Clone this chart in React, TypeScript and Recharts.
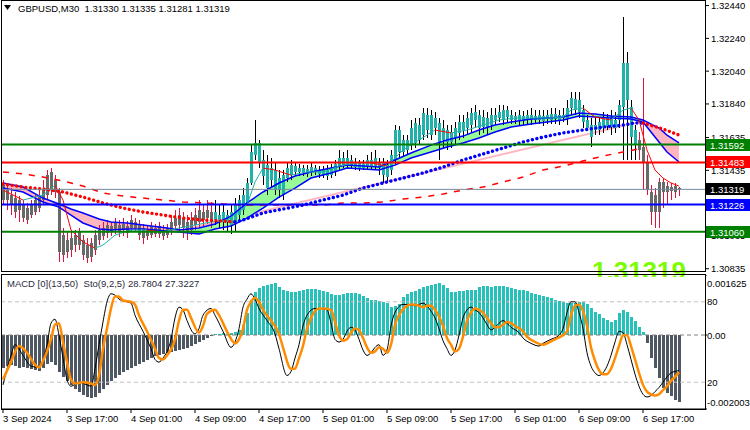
import { Area, Bar, ComposedChart, Line, ReferenceLine, XAxis, YAxis } from 'recharts'

const FONT = '"Liberation Sans", Arial, sans-serif'
const TEAL = '#20b2aa'
const BEAR = '#696969'
const WICK_UP = '#000000'
const WICK_DOWN = '#dc143c'
const HIST_UP = '#26c1b8'
const HIST_DOWN = '#4f5862'

// 170 M30 bars + empty chart shift on the right
const SLOTS = 176

const timeLabels = [
  '3 Sep 2024', '3 Sep 17:00', '4 Sep 01:00', '4 Sep 09:00', '4 Sep 17:00', '5 Sep 01:00',
  '5 Sep 09:00', '5 Sep 17:00', '6 Sep 01:00', '6 Sep 09:00', '6 Sep 17:00',
]

const priceTicks = [1.3244, 1.3224, 1.3204, 1.3184, 1.31635, 1.31435, 1.31035, 1.30835]
const lastPrice = 1.31319

const opens = [
  1.31345, 1.31315, 1.31284, 1.31266, 1.31254, 1.31223, 1.31205, 1.31223, 1.31254, 1.31284,
  1.31315, 1.31406, 1.31425, 1.31376, 1.31303, 1.3104, 1.3101, 1.31022, 1.3104, 1.31059,
  1.3101, 1.30979, 1.30992, 1.3104, 1.31071, 1.31083, 1.31101, 1.31095, 1.3112, 1.31101,
  1.31108, 1.31095, 1.31132, 1.3112, 1.31101, 1.31083, 1.31071, 1.31089, 1.31083, 1.31095,
  1.31071, 1.31083, 1.3112, 1.31144, 1.31162, 1.31144, 1.3112, 1.31132, 1.31162, 1.31193,
  1.31181, 1.31193, 1.31181, 1.31132, 1.3112, 1.3112, 1.3112, 1.31101, 1.3112, 1.31162,
  1.31193, 1.31236, 1.31358, 1.31528, 1.31486, 1.314, 1.31327, 1.31376, 1.31315, 1.31315,
  1.31284, 1.31388, 1.31406, 1.31425, 1.31425, 1.31419, 1.31413, 1.31425, 1.31425, 1.31413,
  1.31406, 1.314, 1.31406, 1.31425, 1.31461, 1.31467, 1.31474, 1.31467, 1.31455, 1.31449,
  1.31449, 1.31455, 1.31461, 1.31461, 1.31449, 1.31406, 1.31394, 1.31437, 1.31498, 1.31547,
  1.31547, 1.31559, 1.31589, 1.31602, 1.3162, 1.3165, 1.31681, 1.3165, 1.31693, 1.31602,
  1.3162, 1.31608, 1.31608, 1.31632, 1.31663, 1.31681, 1.31693, 1.31711, 1.31742, 1.31693,
  1.31699, 1.31699, 1.31711, 1.31742, 1.31754, 1.31742, 1.3176, 1.31742, 1.31742, 1.31742,
  1.31736, 1.31742, 1.31742, 1.31742, 1.31742, 1.31736, 1.31748, 1.31742, 1.31748, 1.31742,
  1.31754, 1.31754, 1.31815, 1.31803, 1.31791, 1.3173, 1.31693, 1.31638, 1.31681, 1.31681,
  1.31693, 1.31705, 1.31699, 1.31693, 1.31742, 1.31821, 1.31864, 1.31638, 1.31589, 1.3162,
  1.31577, 1.31486, 1.31303, 1.31284, 1.31364, 1.31364, 1.31339, 1.31333, 1.31339, 1.3133,
]
const highs = [
  1.31376, 1.31345, 1.31327, 1.31303, 1.31278, 1.31254, 1.31236, 1.31254, 1.31284, 1.31327,
  1.31376, 1.31437, 1.31449, 1.31406, 1.31327, 1.31083, 1.31059, 1.31059, 1.31071, 1.31083,
  1.3104, 1.31022, 1.31022, 1.31071, 1.31101, 1.3112, 1.31132, 1.3112, 1.31144, 1.31132,
  1.31144, 1.31126, 1.31162, 1.31144, 1.31132, 1.31108, 1.31095, 1.3112, 1.31108, 1.3112,
  1.31101, 1.31108, 1.31162, 1.31193, 1.31205, 1.31181, 1.31162, 1.31181, 1.31205, 1.31254,
  1.31223, 1.31254, 1.31242, 1.31254, 1.31223, 1.31223, 1.31193, 1.31223, 1.31266, 1.31284,
  1.31327, 1.31388, 1.31589, 1.31742, 1.3162, 1.31559, 1.31528, 1.3151, 1.31486, 1.31437,
  1.31437, 1.31486, 1.31498, 1.31486, 1.31474, 1.31467, 1.31467, 1.3148, 1.31467, 1.31461,
  1.31461, 1.31467, 1.31474, 1.31498, 1.31559, 1.31547, 1.31559, 1.31528, 1.3151, 1.31498,
  1.31498, 1.31528, 1.31547, 1.31559, 1.3151, 1.3151, 1.31498, 1.31559, 1.31711, 1.31705,
  1.3165, 1.3165, 1.31742, 1.31754, 1.31754, 1.31815, 1.31815, 1.31803, 1.31791, 1.31754,
  1.31742, 1.31711, 1.31711, 1.3173, 1.31772, 1.31772, 1.31791, 1.31815, 1.31833, 1.31803,
  1.31803, 1.31791, 1.31815, 1.31815, 1.31833, 1.31833, 1.31827, 1.31803, 1.31791, 1.31803,
  1.31797, 1.31803, 1.31815, 1.31803, 1.31803, 1.31803, 1.31803, 1.31815, 1.31815, 1.31803,
  1.31815, 1.31864, 1.31913, 1.31913, 1.31913, 1.31833, 1.31772, 1.31754, 1.31754, 1.31754,
  1.31791, 1.31779, 1.31803, 1.31791, 1.31864, 1.3237, 1.32157, 1.31864, 1.31711, 1.31669,
  1.31998, 1.31528, 1.31345, 1.31327, 1.31388, 1.31388, 1.31364, 1.31358, 1.31358, 1.31335,
]
const lows = [
  1.31223, 1.31193, 1.31162, 1.31144, 1.3112, 1.3112, 1.31108, 1.31144, 1.31162, 1.31181,
  1.31223, 1.31254, 1.31284, 1.31266, 1.30876, 1.30876, 1.309, 1.30906, 1.30937, 1.30949,
  1.30888, 1.3087, 1.30876, 1.30918, 1.30979, 1.3101, 1.31022, 1.31034, 1.31047, 1.31028,
  1.31034, 1.31022, 1.31059, 1.31059, 1.3101, 1.30986, 1.3101, 1.31022, 1.31028, 1.31022,
  1.3101, 1.31022, 1.3104, 1.31071, 1.31059, 1.31022, 1.3101, 1.3104, 1.31071, 1.31083,
  1.31095, 1.31108, 1.31083, 1.31101, 1.31083, 1.31071, 1.31059, 1.31047, 1.31059, 1.3112,
  1.31162, 1.31217, 1.31345, 1.31498, 1.31449, 1.31345, 1.31284, 1.31327, 1.31284, 1.31266,
  1.31254, 1.31364, 1.31376, 1.314, 1.314, 1.314, 1.31394, 1.314, 1.31406, 1.31388,
  1.31388, 1.31376, 1.31388, 1.314, 1.31437, 1.31449, 1.31449, 1.31449, 1.31437, 1.31431,
  1.31437, 1.31437, 1.31437, 1.31437, 1.31406, 1.31358, 1.31364, 1.31406, 1.31467, 1.3151,
  1.31522, 1.31528, 1.31559, 1.31571, 1.31589, 1.3162, 1.31632, 1.3162, 1.3165, 1.31498,
  1.31571, 1.31559, 1.31571, 1.31589, 1.3162, 1.31632, 1.3165, 1.31669, 1.31693, 1.3165,
  1.31663, 1.3165, 1.31681, 1.31711, 1.3173, 1.31711, 1.3173, 1.31718, 1.31718, 1.31711,
  1.31711, 1.31718, 1.31711, 1.31718, 1.31718, 1.31705, 1.31718, 1.31718, 1.31718, 1.31711,
  1.3173, 1.31711, 1.31772, 1.31772, 1.31754, 1.31693, 1.31681, 1.31577, 1.3165, 1.3165,
  1.31663, 1.31681, 1.3165, 1.31663, 1.31693, 1.31498, 1.31498, 1.31498, 1.31498, 1.31498,
  1.31315, 1.31284, 1.31101, 1.31083, 1.31083, 1.31205, 1.31223, 1.31254, 1.31266, 1.31281,
]
const closes = [
  1.31254, 1.31254, 1.31223, 1.31181, 1.31193, 1.31144, 1.31132, 1.31162, 1.31181, 1.31205,
  1.31254, 1.31284, 1.31315, 1.31303, 1.30937, 1.30918, 1.30937, 1.30949, 1.30979, 1.30979,
  1.30918, 1.309, 1.30906, 1.30949, 1.3101, 1.31034, 1.31053, 1.31059, 1.31071, 1.31059,
  1.31071, 1.31053, 1.31083, 1.31083, 1.3104, 1.31022, 1.31034, 1.3104, 1.31047, 1.31047,
  1.31034, 1.3104, 1.31071, 1.31095, 1.31101, 1.31083, 1.31059, 1.31071, 1.31101, 1.3112,
  1.31132, 1.31144, 1.3112, 1.31181, 1.31162, 1.31181, 1.31162, 1.31181, 1.31223, 1.31254,
  1.31284, 1.31358, 1.31547, 1.31602, 1.31602, 1.31498, 1.31467, 1.31449, 1.31437, 1.31388,
  1.31406, 1.31449, 1.31467, 1.31461, 1.31449, 1.31449, 1.31443, 1.31455, 1.31449, 1.31437,
  1.31437, 1.31437, 1.31449, 1.31474, 1.3151, 1.3151, 1.3151, 1.31498, 1.31486, 1.3148,
  1.31474, 1.31498, 1.31498, 1.3151, 1.31486, 1.3148, 1.31467, 1.31528, 1.31681, 1.31681,
  1.3162, 1.3162, 1.31693, 1.31724, 1.31711, 1.31785, 1.31772, 1.31772, 1.31754, 1.31724,
  1.31693, 1.31681, 1.31669, 1.31693, 1.3173, 1.3173, 1.31754, 1.31785, 1.31791, 1.31772,
  1.3176, 1.31754, 1.31772, 1.31772, 1.31791, 1.31803, 1.31803, 1.31772, 1.31766, 1.31772,
  1.31766, 1.31772, 1.31772, 1.31766, 1.31772, 1.31766, 1.31772, 1.31779, 1.31779, 1.31772,
  1.31772, 1.31815, 1.31876, 1.3187, 1.31864, 1.31803, 1.31742, 1.31711, 1.31711, 1.3173,
  1.31754, 1.31754, 1.3176, 1.31742, 1.31833, 1.3209, 1.3209, 1.31821, 1.31681, 1.31559,
  1.31486, 1.31315, 1.31181, 1.31181, 1.31181, 1.31303, 1.31303, 1.31309, 1.31303, 1.31319,
]

// [bar, value] samples
const fastMaPts: [number, number][] = [
  [0, 1.31315], [5, 1.31254], [10, 1.31284], [13, 1.31345], [15, 1.31254], [17, 1.31071], [20, 1.30998],
  [23, 1.30961], [25, 1.30979], [28, 1.3104], [32, 1.31071], [36, 1.31071], [40, 1.31059], [44, 1.31083],
  [48, 1.31101], [52, 1.3112], [56, 1.31132], [59, 1.31181], [61, 1.31224], [63, 1.31364], [65, 1.31449],
  [68, 1.31437], [72, 1.31406], [76, 1.31425], [80, 1.31425], [84, 1.31461], [88, 1.3148], [92, 1.3148],
  [96, 1.31461], [98, 1.3151], [100, 1.31559], [104, 1.3162], [108, 1.31681], [112, 1.31663], [116, 1.31681],
  [120, 1.31711], [124, 1.31742], [128, 1.31754], [132, 1.31754], [136, 1.31754], [140, 1.3176], [142, 1.31803],
  [145, 1.31815], [148, 1.3176], [152, 1.31742], [155, 1.31803], [157, 1.31815], [159, 1.31742], [161, 1.31559],
  [163, 1.31437], [165, 1.31388], [167, 1.31358], [169, 1.31339],
]
const slowMaPts: [number, number][] = [
  [0, 1.31352], [5, 1.31333], [10, 1.31321], [15, 1.31303], [20, 1.31272], [25, 1.31236], [30, 1.31205],
  [35, 1.31181], [40, 1.31162], [45, 1.31144], [50, 1.31132], [55, 1.31126], [58, 1.3112], [60, 1.31132],
  [65, 1.31175], [70, 1.31199], [75, 1.31223], [80, 1.31254], [85, 1.31284], [90, 1.31327], [95, 1.31358],
  [100, 1.31388], [105, 1.31419], [110, 1.31455], [115, 1.31498], [120, 1.31535], [125, 1.31571], [130, 1.31608],
  [135, 1.31638], [140, 1.31663], [145, 1.31681], [150, 1.31699], [155, 1.31711], [158, 1.31724], [160, 1.31724],
  [165, 1.31687], [169, 1.3165],
]
const longMaPts: [number, number][] = [
  [0, 1.31425], [5, 1.31413], [10, 1.31394], [15, 1.3137], [20, 1.31339], [25, 1.31297], [30, 1.31278],
  [35, 1.31266], [40, 1.31254], [45, 1.31242], [50, 1.31236], [55, 1.3123], [60, 1.31223], [65, 1.31223],
  [70, 1.31223], [75, 1.31223], [80, 1.31223], [85, 1.31236], [90, 1.31236], [95, 1.31242], [100, 1.3126],
  [105, 1.31272], [110, 1.31291], [115, 1.31315], [120, 1.31333], [125, 1.31364], [130, 1.31394], [135, 1.31437],
  [140, 1.31461], [145, 1.31492], [150, 1.31522], [155, 1.31547], [160, 1.31571],
]
// [bar, upper, lower]
const bandPts: [number, number, number][] = [
  [0, 1.31358, 1.31327], [5, 1.31333, 1.31303], [10, 1.31266, 1.31242], [14, 1.3123, 1.31211],
  [17, 1.31199, 1.31162], [20, 1.31175, 1.31114], [24, 1.31138, 1.31077], [27, 1.3112, 1.31071],
  [31, 1.31114, 1.31077], [35, 1.31101, 1.31077], [41, 1.31083, 1.31065], [44, 1.31071, 1.31059],
  [49, 1.31083, 1.31047], [53, 1.31108, 1.31077], [57, 1.31156, 1.31095], [61, 1.31236, 1.31144],
  [65, 1.31303, 1.31205], [69, 1.31358, 1.31272], [73, 1.314, 1.31327], [77, 1.31425, 1.31388],
  [82, 1.31449, 1.31419], [86, 1.31467, 1.31449], [90, 1.31461, 1.31443], [94, 1.31455, 1.31437],
  [98, 1.31498, 1.31467], [102, 1.31541, 1.3151], [107, 1.31589, 1.31547], [111, 1.3162, 1.31577],
  [115, 1.31644, 1.31602], [119, 1.31681, 1.31632], [123, 1.31711, 1.31669], [127, 1.3173, 1.31699],
  [132, 1.31748, 1.31718], [136, 1.31754, 1.3173], [140, 1.3176, 1.31742], [144, 1.31785, 1.31766],
  [148, 1.31779, 1.3176], [152, 1.31766, 1.31754], [157, 1.3176, 1.31748], [160, 1.31742, 1.3173],
  [164, 1.31693, 1.31608], [166, 1.3165, 1.31547], [169, 1.31602, 1.31486],
]
const BULL_FROM = 44
const BULL_TO = 160

const hLines = [
  { price: 1.31592, color: '#008000', width: 2, tag: '#008000' },
  { price: 1.31483, color: '#ff0000', width: 2, tag: '#ff0000' },
  { price: 1.31319, color: '#778899', width: 1, tag: '#000000' },
  { price: 1.31226, color: '#0000ff', width: 2, tag: '#0000ff' },
  { price: 1.3106, color: '#008000', width: 2, tag: '#008000' },
]
// tags go last so they paint over the plain price labels
const axisTicks = [...priceTicks, ...hLines.map((h) => h.price)]

const macdHist = [
  -0.000893, -0.000839, -0.000812, -0.000839, -0.000893, -0.000866, -0.000893, -0.00092, -0.000947, -0.000975,
  -0.000893, -0.000785, -0.000731, -0.000812, -0.001002, -0.001137, -0.001245, -0.001354, -0.001462, -0.001543,
  -0.001624, -0.001678, -0.001705, -0.001678, -0.00157, -0.001462, -0.001354, -0.001245, -0.001164, -0.001083,
  -0.001002, -0.000947, -0.000893, -0.000839, -0.000785, -0.000731, -0.000677, -0.000623, -0.000568, -0.000541,
  -0.000514, -0.000487, -0.00046, -0.000433, -0.000406, -0.000379, -0.000352, -0.000298, -0.000244, -0.000189,
  -0.000135, -0.000081, -0.000027, 0.000027, 0.000027, 0.000054, 0.000027, 0.000054, 0.000081, 0.000135,
  0.000271, 0.000596, 0.000947, 0.001164, 0.001272, 0.001326, 0.001354, 0.001381, 0.001408, 0.001299,
  0.001218, 0.001191, 0.001164, 0.001164, 0.001191, 0.001218, 0.001245, 0.001245, 0.001245, 0.001218,
  0.001191, 0.001164, 0.00111, 0.001083, 0.001083, 0.00111, 0.001137, 0.001137, 0.001137, 0.00111,
  0.001056, 0.001002, 0.000947, 0.000947, 0.00092, 0.000893, 0.000866, 0.000758, 0.000785, 0.000839,
  0.001029, 0.00111, 0.001164, 0.001191, 0.001245, 0.001299, 0.001326, 0.001354, 0.001381, 0.001408,
  0.001354, 0.001272, 0.001164, 0.001164, 0.001191, 0.001191, 0.001218, 0.001218, 0.001218, 0.001299,
  0.001326, 0.001326, 0.001299, 0.001326, 0.001326, 0.001326, 0.001299, 0.001272, 0.001245, 0.001218,
  0.001218, 0.001191, 0.001137, 0.00111, 0.001083, 0.001056, 0.001029, 0.001002, 0.000947, 0.00092,
  0.000893, 0.000866, 0.000866, 0.000866, 0.000893, 0.000893, 0.000839, 0.000731, 0.000623, 0.000568,
  0.00046, 0.000406, 0.000352, 0.000406, 0.000596, 0.000677, 0.000623, 0.000487, 0.000379, 0.000217,
  0.000081, -0.000217, -0.000623, -0.000893, -0.001164, -0.001435, -0.00157, -0.001651, -0.00176, -0.001814,
]

const stochMainPts: [number, number][] = [
  [0, 18], [2, 40], [3, 48], [5, 40], [7, 32], [9, 31], [11, 48], [12, 64], [13, 67], [14, 55], [15, 38],
  [16, 22], [17, 17], [19, 20], [21, 18], [22, 17], [23, 30], [24, 48], [25, 65], [26, 80], [27, 86], [28, 85],
  [29, 82], [31, 80], [32, 79], [33, 70], [35, 58], [37, 45], [38, 37], [39, 35], [40, 38], [42, 52], [43, 68],
  [44, 76], [45, 74], [46, 66], [48, 56], [49, 60], [50, 70], [52, 75], [53, 70], [55, 58], [57, 46], [58, 50],
  [59, 60], [60, 76], [61, 82], [62, 86], [63, 82], [64, 75], [66, 66], [68, 56], [69, 45], [71, 25], [72, 28],
  [73, 38], [74, 48], [75, 62], [76, 70], [78, 75], [79, 75], [81, 74], [82, 64], [83, 52], [84, 50], [85, 52],
  [86, 58], [87, 61], [88, 59], [89, 52], [90, 44], [91, 40], [92, 42], [93, 46], [94, 48], [95, 40], [96, 44],
  [97, 62], [98, 72], [100, 78], [101, 78], [103, 77], [104, 78], [105, 79], [106, 77], [107, 73], [108, 68],
  [109, 60], [110, 51], [111, 45], [112, 40], [113, 44], [114, 55], [115, 68], [116, 74], [117, 76], [118, 74],
  [119, 72], [120, 68], [121, 63], [122, 59], [123, 61], [124, 64], [125, 66], [126, 64], [127, 61], [129, 57],
  [130, 53], [132, 49], [134, 47], [135, 49], [137, 52], [139, 55], [140, 60], [141, 72], [142, 80], [143, 80],
  [144, 72], [145, 60], [146, 42], [147, 32], [148, 27], [149, 25], [150, 27], [151, 32], [152, 40], [153, 50],
  [154, 58], [155, 57], [156, 48], [157, 37], [158, 26], [159, 17], [160, 11], [161, 9], [162, 10], [163, 13],
  [164, 16], [165, 20], [166, 24], [167, 27], [168, 28], [169, 28.7804],
]
const stochSignalPts: [number, number][] = [
  [0, 22], [2, 35], [4, 47], [6, 42], [8, 33], [9, 31], [10, 36], [12, 52], [13, 63], [14, 64], [15, 50],
  [16, 35], [17, 22], [18, 19], [20, 20], [22, 19], [23, 18], [24, 25], [25, 45], [26, 60], [27, 75], [28, 84],
  [29, 84], [30, 81], [32, 80], [33, 78], [34, 70], [36, 58], [38, 45], [39, 38], [40, 37], [41, 40], [43, 52],
  [44, 66], [45, 74], [46, 74], [47, 68], [49, 57], [50, 62], [51, 71], [53, 74], [54, 70], [56, 58], [58, 49],
  [59, 52], [60, 60], [61, 74], [62, 80], [63, 83], [64, 80], [65, 74], [67, 66], [69, 56], [70, 46], [72, 30],
  [73, 30], [74, 38], [75, 47], [76, 60], [77, 68], [79, 75], [80, 75], [82, 74], [83, 65], [84, 55], [85, 51],
  [86, 52], [87, 57], [88, 60], [89, 59], [90, 53], [91, 46], [92, 42], [93, 43], [94, 46], [95, 45], [96, 42],
  [97, 48], [98, 63], [99, 70], [101, 77], [102, 78], [104, 77], [105, 76], [106, 77], [107, 77], [108, 74],
  [109, 69], [110, 62], [111, 53], [112, 48], [113, 43], [114, 45], [115, 54], [116, 66], [117, 72], [118, 75],
  [119, 74], [120, 72], [121, 68], [122, 64], [123, 61], [124, 61], [125, 63], [126, 65], [127, 64], [128, 62],
  [130, 58], [131, 54], [133, 50], [135, 48], [136, 49], [138, 52], [140, 55], [141, 58], [142, 70], [143, 77],
  [144, 78], [145, 73], [146, 62], [147, 46], [148, 36], [149, 29], [150, 26], [151, 26], [152, 30], [153, 38],
  [154, 47], [155, 55], [156, 55], [157, 47], [158, 37], [159, 27], [160, 18], [161, 13], [162, 11], [163, 10],
  [164, 11], [165, 14], [166, 17], [167, 21], [168, 24], [169, 27.3227],
]

type Row = Record<string, any>
const rows: Row[] = Array.from({ length: SLOTS }, (_, i) => ({ i }))
opens.forEach((open, i) => {
  Object.assign(rows[i], {
    open,
    high: highs[i],
    low: lows[i],
    close: closes[i],
    range: [lows[i], highs[i]],
    macd: macdHist[i],
  })
})
bandPts.forEach(([i, hi, lo]) => {
  rows[i].bandHi = hi
  rows[i].bandLo = lo
  if (i <= BULL_FROM || i >= BULL_TO) rows[i].pink = [lo, hi]
  if (i >= BULL_FROM && i <= BULL_TO) rows[i].green = [lo, hi]
})
longMaPts.forEach(([i, v]) => (rows[i].longMa = v))
stochMainPts.forEach(([i, v]) => (rows[i].stochMain = v))
stochSignalPts.forEach(([i, v]) => (rows[i].stochSignal = v))

// split a sampled line into runs coloured by slope
function colorRuns(name: string, pts: [number, number][], upColor: string, downColor: string) {
  const runs: { up: boolean; ks: number[] }[] = []
  for (let k = 0; k < pts.length - 1; k++) {
    const d = pts[k + 1][1] - pts[k][1]
    const prev = runs[runs.length - 1]
    const up = d === 0 && prev ? prev.up : d > 0
    if (!prev || prev.up !== up) runs.push({ up, ks: [k] })
    runs[runs.length - 1].ks.push(k + 1)
  }
  return runs.map((r, n) => {
    const key = `${name}${n}`
    r.ks.forEach((k) => (rows[pts[k][0]][key] = pts[k][1]))
    return { key, color: r.up ? upColor : downColor }
  })
}
const fastRuns = colorRuns('fast', fastMaPts, TEAL, '#ff0000')
const slowRuns = colorRuns('slow', slowMaPts, '#0000ff', '#ff0000')

function Candle(props: any) {
  const { x, y, width, height, payload } = props
  if (!payload || payload.open == null) return null
  const top = Math.min(y, y + height)
  const span = Math.abs(height)
  const k = payload.high > payload.low ? span / (payload.high - payload.low) : 0
  const py = (v: number) => top + (payload.high - v) * k
  const up = payload.close >= payload.open
  const left = Math.round(x + width / 2 - 1.5)
  const bTop = Math.round(py(Math.max(payload.open, payload.close)))
  const bBot = Math.round(py(Math.min(payload.open, payload.close)))
  return (
    <g>
      <line x1={left + 1.5} x2={left + 1.5} y1={Math.round(top)} y2={Math.round(top + span)}
        stroke={up ? WICK_UP : WICK_DOWN} strokeWidth={1} />
      <rect x={left} y={bTop} width={3} height={Math.max(1, bBot - bTop)} fill={up ? TEAL : BEAR} />
    </g>
  )
}

function HistBar(props: any) {
  const { x, y, width, height, payload } = props
  if (!payload || payload.macd == null) return null
  const left = Math.round(x + width / 2 - 1.5)
  const y0 = Math.round(Math.min(y, y + height))
  const y1 = Math.round(Math.max(y, y + height))
  return <rect x={left} y={y0} width={3} height={Math.max(1, y1 - y0)} fill={payload.macd >= 0 ? HIST_UP : HIST_DOWN} />
}

function PriceTick(props: any) {
  const { x, y, payload } = props
  const v = Number(payload.value)
  const tag = hLines.find((h) => h.price === v)
  if (tag) {
    const yy = Math.round(y)
    return (
      <g>
        <rect x={x - 5} y={yy - 6} width={46} height={12} fill={tag.tag} />
        <text x={x - 1} y={yy + 3.5} fontSize={9.5} fontFamily={FONT} fill="#fff" textAnchor="start">
          {v.toFixed(5)}
        </text>
      </g>
    )
  }
  return (
    <text x={x} y={y + 3.5} fontSize={9.5} fontFamily={FONT} fill="#000" textAnchor="start">
      {v.toFixed(5)}
    </text>
  )
}

function MacdTick(props: any) {
  const { x, y, payload } = props
  const v = Number(payload.value)
  const dy = v > 0 ? 8 : v < 0 ? -7 : 0
  return (
    <text x={x} y={y + dy + 3.5} fontSize={9.5} fontFamily={FONT} fill="#000" textAnchor="start">
      {v === 0 ? '0.00' : v.toFixed(6)}
    </text>
  )
}

function TimeTick(props: any) {
  const { x, y, payload } = props
  const label = timeLabels[Number(payload.value) / 16]
  if (!label) return null
  return (
    <text x={x} y={y + 7} fontSize={9.5} fontFamily={FONT} fill="#000" textAnchor="start">
      {label}
    </text>
  )
}

function LevelLabel(props: any) {
  const { viewBox, text } = props
  if (!viewBox) return null
  return (
    <text x={viewBox.x + viewBox.width + 2} y={viewBox.y + 3.5} fontSize={9.5} fontFamily={FONT} fill="#000">
      {text}
    </text>
  )
}

export default function App() {
  return (
    <div style={{ position: 'absolute', left: 0, top: 0, width: 750, height: 430, background: '#fff', overflow: 'hidden' }}>
      <div style={{ position: 'absolute', left: 0, top: 0 }}>
        <ComposedChart width={750} height={275} data={rows} margin={{ top: 0, right: 0, bottom: 3, left: 1 }}>
          <XAxis dataKey="i" hide />
          <YAxis orientation="right" width={45} domain={[1.30815, 1.32474]} ticks={axisTicks} interval={0}
            allowDataOverflow axisLine={false} tickLine={{ stroke: '#000' }} tickSize={4} tickMargin={2}
            tick={<PriceTick />} />
          <Area dataKey="pink" fill="#ffb6c1" fillOpacity={1} stroke="none" connectNulls isAnimationActive={false} />
          <Area dataKey="green" fill="#98fb98" fillOpacity={1} stroke="none" connectNulls isAnimationActive={false} />
          <Bar dataKey="range" barSize={3} shape={(p: any) => <Candle {...p} />} isAnimationActive={false} />
          <Line dataKey="bandHi" stroke="#0000ff" strokeWidth={1.5} dot={false} activeDot={false} connectNulls isAnimationActive={false} />
          <Line dataKey="bandLo" stroke="#0000ff" strokeWidth={1.5} dot={false} activeDot={false} connectNulls isAnimationActive={false} />
          {fastRuns.map((r) => (
            <Line key={r.key} dataKey={r.key} stroke={r.color} strokeWidth={1} dot={false} activeDot={false}
              connectNulls isAnimationActive={false} />
          ))}
          <Line dataKey="longMa" stroke="#ff0000" strokeWidth={1.5} strokeDasharray="6 7" dot={false}
            activeDot={false} connectNulls isAnimationActive={false} />
          {slowRuns.map((r) => (
            <Line key={r.key} dataKey={r.key} stroke={r.color} strokeWidth={3.4} strokeDasharray="0.01 4.6"
              strokeLinecap="round" dot={false} activeDot={false} connectNulls isAnimationActive={false} />
          ))}
          {hLines.map((h) => (
            <ReferenceLine key={h.price} y={h.price} stroke={h.color} strokeWidth={h.width} />
          ))}
        </ComposedChart>
      </div>

      <div style={{ position: 'absolute', left: 0, top: 275 }}>
        <ComposedChart width={750} height={155} data={rows} margin={{ top: 0, right: 0, bottom: 0, left: 1 }}>
          <XAxis dataKey="i" interval={15} height={21} tickSize={4} tickMargin={2}
            axisLine={{ stroke: '#000' }} tickLine={{ stroke: '#000' }} tick={<TimeTick />} />
          <YAxis yAxisId="macd" orientation="right" width={45} domain={[-0.002003, 0.001625]}
            ticks={[0.001625, 0, -0.002003]} interval={0} allowDataOverflow axisLine={false}
            tickLine={{ stroke: '#000' }} tickSize={2} tickMargin={0} tick={<MacdTick />} />
          <YAxis yAxisId="stoch" hide domain={[0, 100]} allowDataOverflow />
          <ReferenceLine yAxisId="stoch" y={80} stroke="#c0c0c0" strokeDasharray="4 3" label={<LevelLabel text="80" />} />
          <ReferenceLine yAxisId="stoch" y={20} stroke="#c0c0c0" strokeDasharray="4 3" label={<LevelLabel text="20" />} />
          <ReferenceLine yAxisId="macd" y={0} stroke="#7f7f7f" strokeDasharray="4 3" />
          <Bar yAxisId="macd" dataKey="macd" barSize={3} shape={(p: any) => <HistBar {...p} />} isAnimationActive={false} />
          <Line yAxisId="stoch" dataKey="stochMain" type="monotone" stroke="#000" strokeWidth={1} dot={false}
            activeDot={false} connectNulls isAnimationActive={false} />
          <Line yAxisId="stoch" dataKey="stochSignal" type="monotone" stroke="#ff8c00" strokeWidth={2.5} dot={false}
            activeDot={false} connectNulls isAnimationActive={false} />
        </ComposedChart>
      </div>

      {/* large bid label, mostly hidden under the indicator window */}
      <div style={{ position: 'absolute', left: 592, top: 262, width: 104, height: 15, overflow: 'hidden', pointerEvents: 'none' }}>
        <div style={{ font: `bold 26px ${FONT}`, color: '#7cfc00', lineHeight: '26px', marginTop: -4, whiteSpace: 'pre' }}>
          {lastPrice.toFixed(5)}
        </div>
      </div>

      {/* panel frames */}
      <div style={{ position: 'absolute', left: 1, top: 0, width: 705, height: 272, border: '1px solid #000', boxSizing: 'border-box', pointerEvents: 'none' }} />
      <div style={{ position: 'absolute', left: 1, top: 274, width: 705, height: 136, border: '1px solid #000', boxSizing: 'border-box', pointerEvents: 'none' }} />

      {/* window captions */}
      <svg style={{ position: 'absolute', left: 4, top: 5 }} width={8} height={6}>
        <polygon points="0,0 7,0 3.5,5" fill="#000" />
      </svg>
      <div style={{ position: 'absolute', left: 18, top: 3, font: `9.5px ${FONT}`, color: '#000', whiteSpace: 'pre', lineHeight: '11px' }}>
        {'GBPUSD,M30  1.31330 1.31335 1.31281 1.31319'}
      </div>
      <div style={{ position: 'absolute', left: 7, top: 278, font: `9.5px ${FONT}`, color: '#2b2b3a', whiteSpace: 'pre', lineHeight: '11px' }}>
        {'MACD [0](13,50)  Sto(9,2,5) 28.7804 27.3227'}
      </div>
    </div>
  )
}
